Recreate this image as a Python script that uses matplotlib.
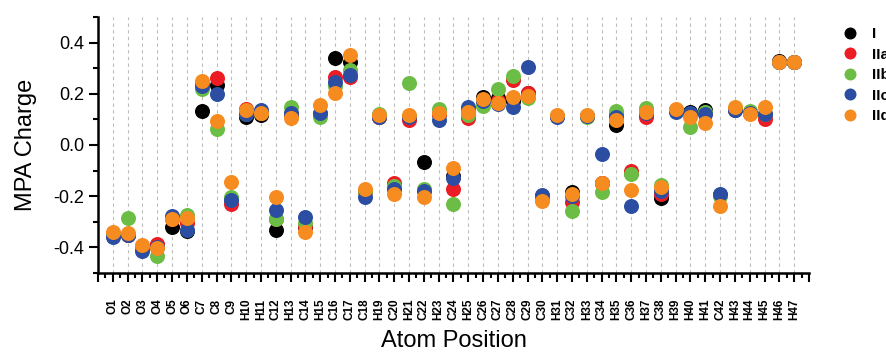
import matplotlib
matplotlib.use("Agg")
import matplotlib.pyplot as plt
import numpy as np

plt.rcParams['font.family'] = ['Liberation Sans', 'DejaVu Sans']

atoms = ['O1', 'O2', 'O3', 'O4', 'O5', 'O6', 'C7', 'C8', 'C9', 'H10', 'H11', 'C12',
         'H13', 'C14', 'H15', 'C16', 'C17', 'C18', 'H19', 'C20', 'H21', 'C22', 'H23',
         'C24', 'H25', 'C26', 'C27', 'C28', 'C29', 'C30', 'H31', 'C32', 'H33', 'C34',
         'H35', 'C36', 'H37', 'C38', 'H39', 'H40', 'H41', 'C42', 'H43', 'H44', 'H45',
         'H46', 'H47']

# MPA charges, one list per structure
I = [-0.35, -0.35, -0.40, -0.39, -0.319, -0.336, 0.133, 0.234, -0.21, 0.108, 0.118, -0.332,
     0.12, -0.32, 0.12, 0.339, 0.325, -0.18, 0.11, -0.165, 0.11, -0.068, 0.12,
     -0.12, 0.13, 0.186, 0.182, 0.17, 0.202, -0.2, 0.115, -0.182, 0.115, -0.15,
     0.078, -0.11, 0.12, -0.208, 0.135, 0.13, 0.137, -0.195, 0.137, 0.125, 0.12,
     0.33, 0.325]
IIa = [-0.35, -0.35, -0.40, -0.388, -0.29, -0.306, 0.24, 0.26, -0.232, 0.14, 0.125, -0.29,
       0.12, -0.315, 0.12, 0.264, 0.264, -0.18, 0.11, -0.150, 0.098, -0.175, 0.12,
       -0.172, 0.104, 0.17, 0.17, 0.254, 0.202, -0.2, 0.115, -0.221, 0.115, -0.15,
       0.12, -0.10, 0.111, -0.19, 0.135, 0.12, 0.125, -0.195, 0.14, 0.125, 0.102,
       0.325, 0.325]
IIb = [-0.35, -0.284, -0.40, -0.434, -0.28, -0.273, 0.218, 0.0625, -0.202, 0.12, 0.125, -0.29,
       0.150, -0.306, 0.111, 0.23, 0.293, -0.18, 0.12, -0.16, 0.241, -0.17, 0.139,
       -0.23, 0.117, 0.152, 0.218, 0.271, 0.185, -0.2, 0.115, -0.257, 0.11, -0.182,
       0.133, -0.115, 0.143, -0.156, 0.135, 0.072, 0.13, -0.2, 0.14, 0.133, 0.12,
       0.325, 0.325]
IIc = [-0.361, -0.35, -0.413, -0.40, -0.277, -0.332, 0.230, 0.198, -0.215, 0.12, 0.137, -0.254,
       0.126, -0.28, 0.126, 0.245, 0.273, -0.204, 0.11, -0.173, 0.11, -0.178, 0.098,
       -0.128, 0.150, 0.17, 0.160, 0.150, 0.306, -0.195, 0.11, -0.2, 0.115, -0.036,
       0.111, -0.237, 0.125, -0.18, 0.13, 0.124, 0.12, -0.193, 0.137, 0.125, 0.12,
       0.325, 0.325]
IId = [-0.339, -0.342, -0.391, -0.404, -0.289, -0.286, 0.25, 0.095, -0.143, 0.137, 0.124, -0.202,
       0.107, -0.339, 0.155, 0.202, 0.352, -0.173, 0.117, -0.191, 0.117, -0.202, 0.124,
       -0.089, 0.130, 0.178, 0.163, 0.189, 0.192, -0.217, 0.117, -0.19, 0.117, -0.147,
       0.098, -0.176, 0.13, -0.163, 0.141, 0.111, 0.085, -0.237, 0.150, 0.121, 0.15,
       0.323, 0.323]

series = [('I', I, '#000000'), ('IIa', IIa, '#ec1c24'), ('IIb', IIb, '#6cbd45'),
          ('IIc', IIc, '#2b4ea2'), ('IId', IId, '#f68b1f')]

fig = plt.figure(figsize=(8.87, 3.54), dpi=100)
ax = fig.add_axes([0.1105, 0.2288, 0.8015, 0.7232])

x = np.arange(len(atoms))
for xi in x:
    ax.axvline(xi, color='#bcbcbc', lw=0.8, ls=(0, (3, 3)), zorder=0)

for name, vals, col in series:
    ax.plot(x, vals, 'o', ms=10.8, color=col, mec='none', label=name, zorder=3)

ax.set_xlim(-1, 47)
ax.set_ylim(-0.5, 0.5)

for s in ['top', 'right']:
    ax.spines[s].set_visible(False)
for s in ['left', 'bottom']:
    ax.spines[s].set_linewidth(1.8)

ax.set_xticks(np.arange(-1, 48))
ax.set_xticklabels([''] + atoms + [''], rotation=90, fontsize=8.5, fontweight='bold')
ax.set_xticks(np.arange(-0.5, 47, 1), minor=True)
ax.set_yticks([-0.4, -0.2, 0.0, 0.2, 0.4])
ax.set_yticklabels(['-0.4', '-0.2', '0.0', '0.2', '0.4'], fontsize=13)
ax.set_yticks([-0.5, -0.3, -0.1, 0.1, 0.3, 0.5], minor=True)
ax.tick_params(axis='both', which='major', length=6.5, width=1.5, direction='out')
ax.tick_params(axis='both', which='minor', length=3.5, width=1.5, direction='out')
ax.tick_params(axis='x', which='major', pad=12)

ax.set_ylabel('MPA Charge', fontsize=17, labelpad=12)
ax.set_xlabel('Atom Position', fontsize=17, labelpad=7)

ax.legend(loc='upper left', bbox_to_anchor=(0.943, 0.94), bbox_transform=fig.transFigure,
          frameon=False, handlelength=1.0, handletextpad=0.9, labelspacing=0.42,
          markerscale=0.8, prop={'weight': 'bold', 'size': 11}, borderaxespad=0)

fig.savefig('out.png', dpi=100)
